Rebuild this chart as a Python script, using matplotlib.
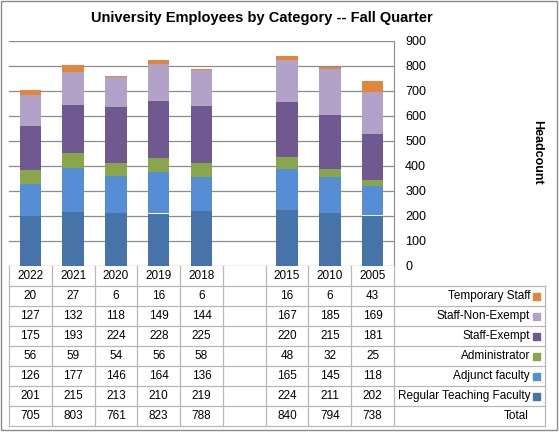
import numpy as np
import matplotlib
matplotlib.use('Agg')
import matplotlib.pyplot as plt
from matplotlib.patches import Rectangle

plt.rcParams['font.family'] = ['Liberation Sans', 'DejaVu Sans']

# data, original order (axis is drawn reversed, as in the reference)
years = ['2005', '2010', '2015', '', '2018', '2019', '2020', '2021', '2022']
series = ['Regular Teaching Faculty', 'Adjunct faculty', 'Administrator',
          'Staff-Exempt', 'Staff-Non-Exempt', 'Temporary Staff']
regular = [202, 211, 224, np.nan, 219, 210, 213, 215, 201]
adjunct = [118, 145, 165, np.nan, 136, 164, 146, 177, 126]
admin = [25, 32, 48, np.nan, 58, 56, 54, 59, 56]
exempt = [181, 215, 220, np.nan, 225, 228, 224, 193, 175]
non_exempt = [169, 185, 167, np.nan, 144, 149, 118, 132, 127]
temporary = [43, 6, 16, np.nan, 6, 16, 6, 27, 20]
total = [738, 794, 840, np.nan, 788, 823, 761, 803, 705]
colors = ['#4674A8', '#558ED5', '#8AA64B', '#705890', '#B3A2C7', '#E0873C']

values = [regular, adjunct, admin, exempt, non_exempt, temporary]

W, H = 559, 432
fig = plt.figure(figsize=(W / 100, H / 100), dpi=100)

# plot area in pixels
px0, px1 = 9, 394
py_top, py_bot = 41, 266
ax = fig.add_axes([px0 / W, 1 - py_bot / H, (px1 - px0) / W, (py_bot - py_top) / H])

x = np.arange(len(years))
bottom = np.zeros(len(years))
for vals, name, c in zip(values, series, colors):
    v = np.nan_to_num(np.array(vals, dtype=float))
    ax.bar(x, v, 0.5, bottom=bottom, color=c, label=name, zorder=2)
    bottom += v

ax.set_xlim(len(years) - 0.5, -0.5)
ax.set_ylim(0, 900)
ax.set_yticks(range(0, 901, 100))
ax.yaxis.tick_right()
ax.tick_params(axis='y', length=0, pad=8, labelsize=9)
ax.set_xticks([])
ax.grid(axis='y', color='#8c8c8c', linewidth=0.9, zorder=0)
for s in ['top', 'left', 'bottom']:
    ax.spines[s].set_visible(False)
ax.spines['right'].set_color('#8c8c8c')

# table, drawn in pixel space over the whole figure
tax = fig.add_axes([0, 0, 1, 1])
tax.set_xlim(0, W)
tax.set_ylim(H, 0)
tax.axis('off')

col_w = (px1 - px0) / len(years)
row_h = 20
t_top = py_bot
leg_r = 545
line_c = '#b8b8b8'

rows = [('Temporary Staff', temporary, colors[5]),
        ('Staff-Non-Exempt', non_exempt, colors[4]),
        ('Staff-Exempt', exempt, colors[3]),
        ('Administrator', admin, colors[2]),
        ('Adjunct faculty', adjunct, colors[1]),
        ('Regular Teaching Faculty', regular, colors[0]),
        ('Total', total, None)]

n_rows = len(rows) + 1
t_bot = t_top + n_rows * row_h

# vertical lines
for k in range(len(years) + 1):
    tax.plot([px0 + k * col_w] * 2, [t_top, t_bot], color=line_c, lw=0.9)
tax.plot([leg_r, leg_r], [t_top + row_h, t_bot], color=line_c, lw=0.9)
# horizontal lines
for r in range(1, n_rows + 1):
    tax.plot([px0, leg_r], [t_top + r * row_h] * 2, color=line_c, lw=0.9)

# header
for i, yr in enumerate(years):
    k = len(years) - 1 - i
    tax.text(px0 + (k + 0.5) * col_w, t_top + row_h / 2, yr,
             ha='center', va='center', fontsize=8.5)

for r, (name, vals, c) in enumerate(rows):
    yc = t_top + (r + 1.5) * row_h
    for i, v in enumerate(vals):
        if np.isnan(v):
            continue
        k = len(years) - 1 - i
        tax.text(px0 + (k + 0.5) * col_w, yc, str(int(v)),
                 ha='center', va='center', fontsize=8.5)
    if c is not None:
        tax.add_patch(Rectangle((533, yc - 3.5), 7, 7, color=c))
        tax.text(530, yc, name, ha='right', va='center', fontsize=8.5)
    else:
        tax.text(529, yc, name, ha='right', va='center', fontsize=8.5)

# title, axis label, border
tax.text(262, 18, 'University Employees by Category -- Fall Quarter',
         ha='center', va='center', fontsize=10.5, fontweight='bold')
tax.text(537, 152, 'Headcount', ha='center', va='center', rotation=-90,
         fontsize=9, fontweight='bold')
tax.add_patch(Rectangle((1, 1), W - 3, H - 3, fill=False, ec='#8c8c8c', lw=1))

fig.savefig('out.png', dpi=100)
